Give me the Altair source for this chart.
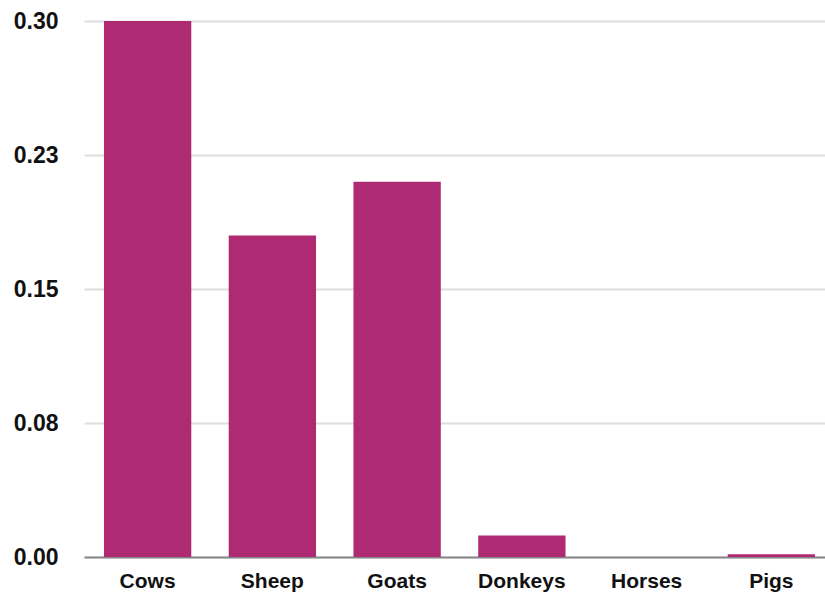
import altair as alt
import pandas as pd

animals = ["Cows", "Sheep", "Goats", "Donkeys", "Horses", "Pigs"]
values = [0.30, 0.18, 0.21, 0.012, 0.0, 0.0015]
y_ticks = [0.0, 0.075, 0.15, 0.225, 0.30]

df = pd.DataFrame({"animal": animals, "value": values})

FONT = "Liberation Sans"

chart = alt.Chart(df).mark_bar(color="#AE2A73").encode(
    x=alt.X(
        "animal:N",
        sort=animals,
        title=None,
        scale=alt.Scale(paddingInner=0.3, paddingOuter=0.16, range=[0, 751]),
        axis=alt.Axis(
            labelAngle=0,
            labelFont=FONT,
            labelFontSize=21,
            labelFontWeight="bold",
            labelColor="#111111",
            labelPadding=13,
            ticks=False,
            domainColor="#888888",
            domainWidth=2,
            grid=False,
        ),
    ),
    y=alt.Y(
        "value:Q",
        title=None,
        scale=alt.Scale(domain=[0, 0.30], nice=False),
        axis=alt.Axis(
            values=y_ticks,
            labelExpr="format(datum.value + 1e-9, '.2f')",
            labelFont=FONT,
            labelFontSize=23,
            labelFontWeight="bold",
            labelColor="#111111",
            labelPadding=26,
            ticks=False,
            domain=False,
            gridColor="#DDDDDD",
            gridWidth=2,
        ),
    ),
).properties(
    width=741,
    height=536,
    autosize=alt.AutoSizeParams(type="none"),
    padding={"left": 84, "top": 21, "right": 0, "bottom": 44},
).configure_view(stroke=None)

chart.save("out.html", embed_options={"renderer": "svg", "actions": False})
